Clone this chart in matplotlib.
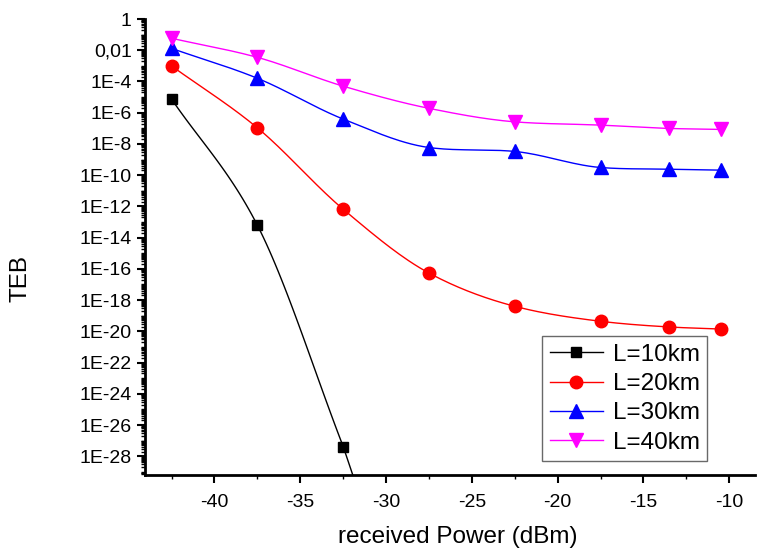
import numpy as np
import matplotlib
matplotlib.use('Agg')
from matplotlib import pyplot as plt
from matplotlib.ticker import FixedLocator, LogLocator, FuncFormatter, MultipleLocator, NullFormatter

plt.rc('font', family='Liberation Sans')
plt.rc('axes', unicode_minus=False)

# received power (dBm) and TEB values
power = [-42.5, -37.5, -32.5, -27.5, -22.5, -17.5, -13.5, -10.5]
teb_10 = [7.4e-6, 6.2e-14, 4.2e-28]
teb_20 = [9.8e-4, 1.07e-7, 6.6e-13, 5.4e-17, 4.0e-19, 4.4e-20, 1.9e-20, 1.4e-20]
teb_30 = [1.3e-2, 1.6e-4, 3.9e-7, 5.9e-9, 3.3e-9, 3.1e-10, 2.4e-10, 2.1e-10]
teb_40 = [5.8e-2, 3.5e-3, 5.0e-5, 1.9e-6, 2.6e-7, 1.6e-7, 9.8e-8, 8.5e-8]
labels = ['L=10km', 'L=20km', 'L=30km', 'L=40km']
colors = ['black', 'red', 'blue', 'magenta']
markers = ['s', 'o', '^', 'v']
msizes = [7.5, 9, 9.5, 9.5]


def slopes(x, y):
    # blend of harmonic (monotone) and central-difference tangents
    h = np.diff(x)
    d = np.diff(y) / h
    m = np.zeros_like(y)
    for i in range(1, len(x) - 1):
        cen = (y[i + 1] - y[i - 1]) / (x[i + 1] - x[i - 1])
        har = 0.0
        if d[i - 1] * d[i] > 0:
            w1 = 2 * h[i] + h[i - 1]
            w2 = h[i] + 2 * h[i - 1]
            har = (w1 + w2) / (w1 / d[i - 1] + w2 / d[i])
        m[i] = 0.5 * (cen + har)
    m[0] = d[0]
    m[-1] = d[-1]
    return m


def smooth(x, y, n=30):
    x = np.asarray(x, float)
    ly = np.log10(y)
    m = slopes(x, ly)
    xs, ys = [], []
    for i in range(len(x) - 1):
        h = x[i + 1] - x[i]
        t = np.linspace(0, 1, n)
        h00 = 2 * t**3 - 3 * t**2 + 1
        h10 = t**3 - 2 * t**2 + t
        h01 = -2 * t**3 + 3 * t**2
        h11 = t**3 - t**2
        xs.append(x[i] + t * h)
        ys.append(h00 * ly[i] + h10 * h * m[i] + h01 * ly[i + 1] + h11 * h * m[i + 1])
    return np.concatenate(xs), np.concatenate(ys), m[-1]


fig = plt.figure(figsize=(7.62, 5.52), dpi=100)
ax = fig.add_axes([145 / 762, 77 / 552, 610 / 762, 456 / 552])

all_teb = [teb_10, teb_20, teb_30, teb_40]
for k, teb in enumerate(all_teb):
    xp = power[:len(teb)]
    xs, ys, mend = smooth(xp, teb)
    if k == 0:
        # line runs on past the last point down to the axis
        xe = np.array([xp[-1], xp[-1] + 1.5])
        xs = np.concatenate([xs, xe])
        ys = np.concatenate([ys, np.log10(teb[-1]) + 1.15 * mend * (xe - xp[-1])])
    ax.plot(xs, 10 ** ys, '-', color=colors[k], lw=1)
    ax.plot(xp, teb, markers[k], color=colors[k], ms=msizes[k], ls='none')
    ax.plot([], [], '-', marker=markers[k], color=colors[k], ms=msizes[k], lw=1,
            label=labels[k])

ax.set_yscale('log')
ax.set_xlim(-44.05, -8.5)
ax.set_ylim(10 ** -29.2, 1)

ax.yaxis.set_major_locator(FixedLocator([10.0 ** e for e in range(0, -29, -2)]))
ax.yaxis.set_minor_locator(LogLocator(base=10, subs=np.arange(1, 10), numticks=200))
ax.yaxis.set_minor_formatter(NullFormatter())


def fmt(v, pos):
    e = int(round(np.log10(v)))
    if e == 0:
        return '1'
    if e == -2:
        return '0,01'
    return '1E%d' % e


ax.yaxis.set_major_formatter(FuncFormatter(fmt))
ax.xaxis.set_major_locator(MultipleLocator(5))
ax.xaxis.set_minor_locator(MultipleLocator(2.5))

ax.tick_params(which='major', direction='out', length=6, width=1.5, labelsize=14)
ax.tick_params(which='minor', direction='out', length=3, width=1)
ax.tick_params(axis='x', which='major', pad=8)
for s in ['top', 'right']:
    ax.spines[s].set_visible(False)
for s in ['left', 'bottom']:
    ax.spines[s].set_linewidth(2)

fig.text(20.5 / 762, 1 - 278 / 552, 'TEB', rotation=90, fontsize=17.5, ha='center', va='center')
fig.text(458 / 762, 1 - 537 / 552, 'received Power (dBm)', fontsize=17.5, ha='center', va='center')

leg = ax.legend(loc='lower right', bbox_to_anchor=(707 / 762, 91 / 552), bbox_transform=fig.transFigure,
                fontsize=17.5, frameon=True, fancybox=False, edgecolor='#444444',
                handlelength=2.2, labelspacing=0.3, borderpad=0.3, handletextpad=0.4,
                borderaxespad=0)
leg.get_frame().set_linewidth(1)

fig.savefig('out.png', dpi=100)
